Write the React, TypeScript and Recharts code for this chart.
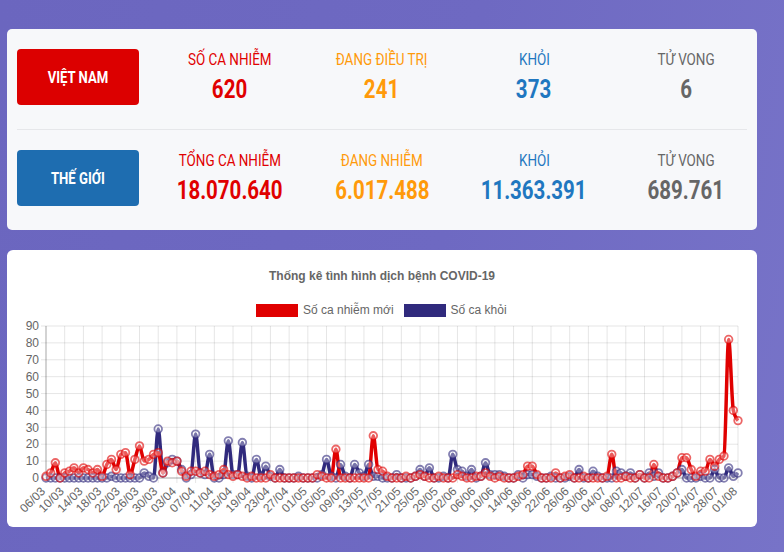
import { LineChart, Line, XAxis, YAxis, CartesianGrid } from 'recharts'

// thống kê: 06/03 -> 01/08 (one value per day)
const startDate = Date.UTC(2020, 2, 6)

const newCases = [
  1, 3, 9, 0, 3, 4, 6, 3, 6, 5, 3, 5, 1, 8, 11, 5, 14, 15, 2, 11,
  19, 10, 11, 14, 15, 3, 10, 9, 10, 4, 1, 4, 4, 3, 4, 2, 1, 2, 5, 2,
  1, 2, 1, 0, 1, 0, 0, 0, 2, 0, 0, 0, 0, 0, 0, 0, 0, 0, 2, 1,
  0, 0, 17, 0, 0, 0, 0, 0, 0, 0, 25, 5, 4, 1, 0, 0, 0, 1, 0, 1,
  2, 1, 0, 0, 1, 0, 0, 0, 2, 1, 0, 0, 1, 1, 3, 1, 0, 1, 0, 0,
  0, 1, 2, 7, 7, 2, 0, 0, 0, 3, 0, 1, 2, 0, 0, 1, 0, 0, 0, 0,
  1, 14, 0, 0, 1, 0, 0, 2, 0, 0, 8, 1, 0, 0, 1, 3, 12, 12, 5, 1,
  4, 4, 11, 7, 11, 13, 82, 40, 34,
]

const recovered = [
  0, 0, 0, 0, 0, 0, 0, 0, 0, 0, 0, 0, 0, 0, 1, 0, 0, 0, 0, 0,
  0, 3, 1, 0, 29, 3, 9, 11, 10, 5, 0, 2, 26, 3, 2, 14, 0, 0, 2, 22,
  2, 2, 21, 1, 0, 11, 1, 7, 1, 0, 5, 0, 0, 0, 1, 0, 0, 0, 0, 2,
  11, 1, 0, 8, 1, 0, 8, 3, 1, 8, 1, 1, 0, 0, 0, 2, 0, 0, 0, 1,
  5, 1, 6, 0, 0, 1, 0, 14, 5, 4, 1, 5, 0, 1, 9, 2, 2, 2, 1, 0,
  0, 2, 0, 2, 2, 1, 0, 0, 1, 0, 0, 0, 1, 0, 5, 0, 0, 4, 1, 0,
  0, 0, 4, 3, 1, 3, 0, 2, 0, 3, 1, 3, 0, 0, 1, 3, 5, 0, 0, 0,
  1, 0, 0, 5, 0, 0, 6, 1, 3,
]

const xTicks = [
  '06/03', '10/03', '14/03', '18/03', '22/03', '26/03', '30/03', '03/04', '07/04', '11/04',
  '15/04', '19/04', '23/04', '27/04', '01/05', '05/05', '09/05', '13/05', '17/05', '21/05',
  '25/05', '29/05', '02/06', '06/06', '10/06', '14/06', '18/06', '22/06', '26/06', '30/06',
  '04/07', '08/07', '12/07', '16/07', '20/07', '24/07', '28/07', '01/08',
]
const yTicks = [0, 10, 20, 30, 40, 50, 60, 70, 80, 90]

const vnStats = [
  { label: 'SỐ CA NHIỄM', value: '620', color: '#e00000' },
  { label: 'ĐANG ĐIỀU TRỊ', value: '241', color: '#ff9a0a' },
  { label: 'KHỎI', value: '373', color: '#1f77c0' },
  { label: 'TỬ VONG', value: '6', color: '#666666' },
]
const worldStats = [
  { label: 'TỔNG CA NHIỄM', value: '18.070.640', color: '#e00000' },
  { label: 'ĐANG NHIỄM', value: '6.017.488', color: '#ff9a0a' },
  { label: 'KHỎI', value: '11.363.391', color: '#1f77c0' },
  { label: 'TỬ VONG', value: '689.761', color: '#666666' },
]

const pad = (n: number) => (n < 10 ? '0' + n : '' + n)
const data = newCases.map((v, i) => {
  const d = new Date(startDate + i * 86400000)
  return { day: `${pad(d.getUTCDate())}/${pad(d.getUTCMonth() + 1)}`, cases: v, rec: recovered[i] }
})

const RED = '#e00000'
const NAVY = '#302a7d'
const headFont = 'Roboto, sans-serif'
const chartFont = "'Liberation Sans', Arial, Helvetica, sans-serif"

// no condensed face installed, so squeeze Roboto a bit
const Narrow = ({ children, k = 0.84 }: { children: any; k?: number }) => (
  <span style={{ display: 'inline-block', transform: `scaleX(${k})`, whiteSpace: 'nowrap' }}>{children}</span>
)

function XTick({ x, y, payload }: any) {
  return (
    <g transform={`translate(${x},${y + 7}) rotate(-45)`}>
      <text x={0} y={0} textAnchor="end" fontSize={12} fill="#666" fontFamily={chartFont}>
        {payload.value}
      </text>
    </g>
  )
}

function StatRow({ top, name, bg, items }: { top: number; name: string; bg: string; items: typeof vnStats }) {
  return (
    <>
      <div style={{
        position: 'absolute', left: 10, top, width: 122, height: 56, background: bg, borderRadius: 4,
        color: '#fff', fontFamily: headFont, fontWeight: 700, fontSize: 16,
        display: 'flex', alignItems: 'center', justifyContent: 'center',
      }}><Narrow k={0.82}>{name}</Narrow></div>
      {items.map((it, i) => (
        <div key={it.label} style={{ position: 'absolute', left: 148 + i * 152, top: top + 2, width: 150, textAlign: 'center', fontFamily: headFont, color: it.color }}>
          <div style={{ fontSize: 16, lineHeight: '18px' }}><Narrow>{it.label}</Narrow></div>
          <div style={{ fontSize: 25, fontWeight: 700, lineHeight: '28px', marginTop: 7 }}><Narrow k={0.82}>{it.value}</Narrow></div>
        </div>
      ))}
    </>
  )
}

export default function App() {
  return (
    <div style={{
      position: 'fixed', left: 0, top: 0, width: 784, height: 552, overflow: 'hidden',
      background: 'linear-gradient(100deg, #6b66bf 0%, #6e69c2 55%, #7773c8 100%)',
    }}>
      <div style={{ position: 'absolute', left: 7, top: 29, width: 750, height: 201, background: '#f7f8fa', borderRadius: 5 }}>
        <StatRow top={20} name="VIỆT NAM" bg="#dc0000" items={vnStats} />
        <div style={{ position: 'absolute', left: 10, top: 100, width: 730, height: 1, background: '#e6e7ea' }} />
        <StatRow top={121} name="THẾ GIỚI" bg="#1e6db0" items={worldStats} />
      </div>

      <div style={{ position: 'absolute', left: 7, top: 250, width: 750, height: 277, background: '#fff', borderRadius: 6 }}>
        <div style={{ position: 'absolute', left: 0, top: 19, width: 750, textAlign: 'center', fontFamily: chartFont, fontWeight: 700, fontSize: 12, color: '#666' }}>
          Thống kê tình hình dịch bệnh COVID-19
        </div>
        <div style={{ position: 'absolute', left: 249, top: 53, height: 14, display: 'flex', alignItems: 'center', fontFamily: chartFont, fontSize: 12, color: '#666' }}>
          <span style={{ width: 40, height: 11, background: RED, border: '1px solid rgba(224,0,0,0.6)', marginRight: 5 }} />
          <span style={{ marginRight: 10 }}>Số ca nhiễm mới</span>
          <span style={{ width: 40, height: 11, background: NAVY, border: '1px solid rgba(48,42,125,0.6)', marginRight: 5 }} />
          <span>Số ca khỏi</span>
        </div>
        <div style={{ position: 'absolute', left: 0, top: 68 }}>
          <LineChart width={750} height={207} data={data} margin={{ top: 8, right: 19, bottom: 0, left: 0 }}>
            <CartesianGrid stroke="rgba(0,0,0,0.1)" vertical horizontal />
            <XAxis
              dataKey="day"
              ticks={xTicks}
              interval={0}
              tick={<XTick />}
              height={47}
              tickSize={5}
              stroke="rgba(0,0,0,0.25)"
              tickLine={{ stroke: 'rgba(0,0,0,0.1)' }}
            />
            <YAxis
              domain={[0, 90]}
              ticks={yTicks}
              interval={0}
              width={39}
              tickSize={5}
              stroke="rgba(0,0,0,0.25)"
              tickLine={{ stroke: 'rgba(0,0,0,0.1)' }}
              tick={{ fontSize: 12, fill: '#666', fontFamily: chartFont }}
            />
            <Line
              type="monotone" dataKey="rec" stroke={NAVY} strokeWidth={3.5}
              dot={{ r: 3.8, stroke: 'rgba(48,42,125,0.6)', strokeWidth: 1.8, fill: 'rgba(255,255,255,0.35)' }}
              isAnimationActive={false}
            />
            <Line
              type="monotone" dataKey="cases" stroke={RED} strokeWidth={3.5}
              dot={{ r: 3.8, stroke: 'rgba(224,0,0,0.6)', strokeWidth: 1.8, fill: 'rgba(255,255,255,0.35)' }}
              isAnimationActive={false}
            />
          </LineChart>
        </div>
      </div>
    </div>
  )
}
